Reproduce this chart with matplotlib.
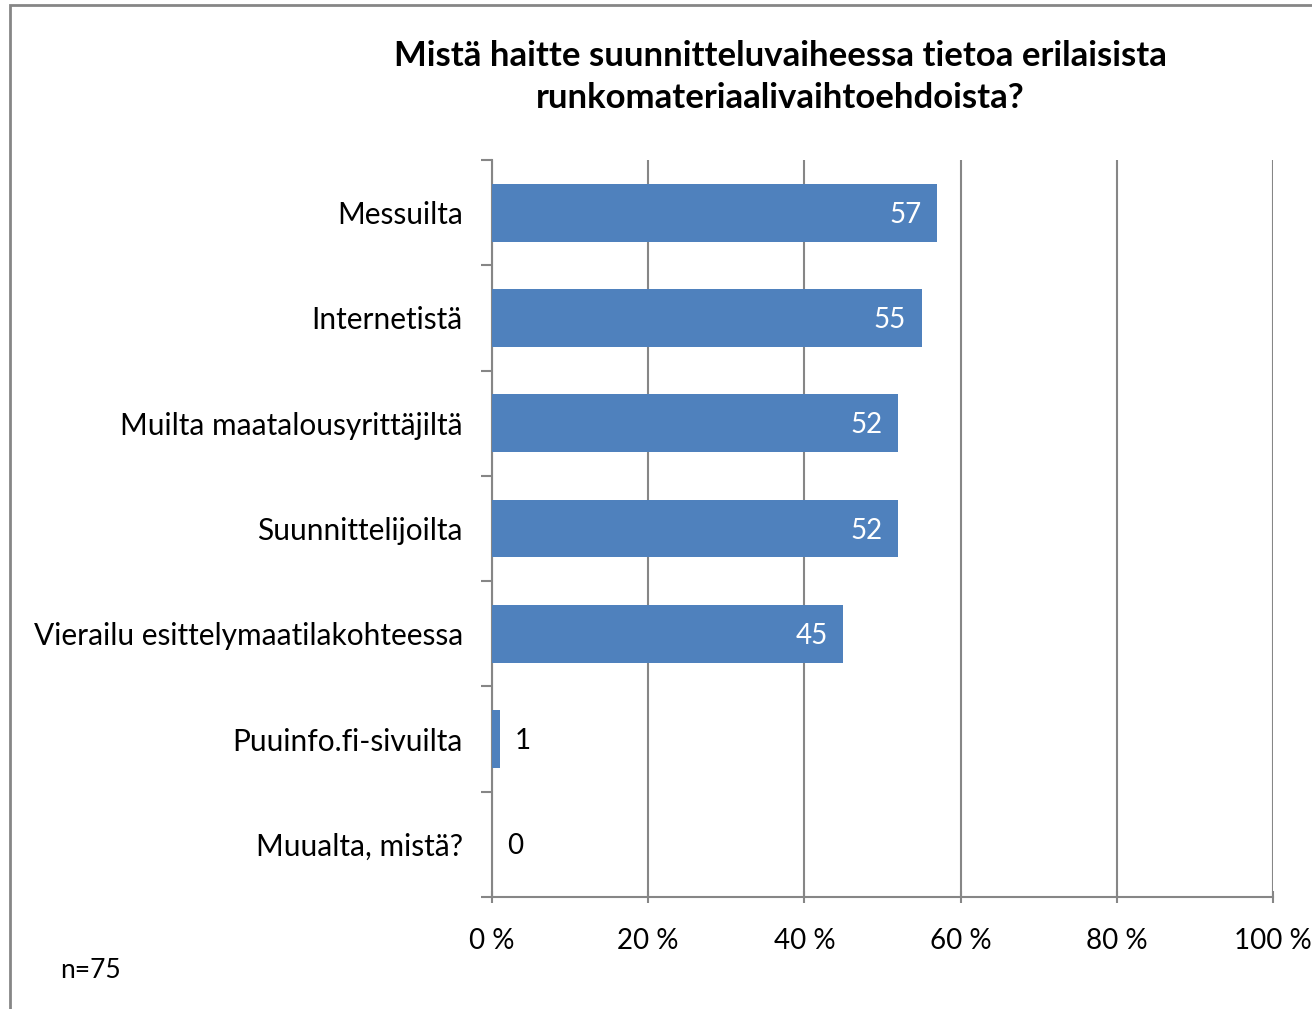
import numpy as np
import matplotlib.pyplot as plt
from matplotlib.patches import Rectangle

plt.rcParams['font.family'] = ['Lato', 'DejaVu Sans']

categories = ['Messuilta', 'Internetistä', 'Muilta maatalousyrittäjiltä', 'Suunnittelijoilta',
              'Vierailu esittelymaatilakohteessa', 'Puuinfo.fi-sivuilta', 'Muualta, mistä?']
values = [57, 55, 52, 52, 45, 1, 0]
xticks = [0, 20, 40, 60, 80, 100]

grey = '#868686'
blue = '#4F81BD'

fig = plt.figure(figsize=(13.12, 10.09), dpi=100)
ax = fig.add_axes([492/1312, 1 - 897/1009, (1273-492)/1312, (897-160)/1009])

y = np.arange(len(categories))
ax.barh(y, values, height=0.55, color=blue, linewidth=0, zorder=3)

for yi, v in zip(y, values):
    if v >= 10:
        ax.text(v - 2, yi + 0.02, str(v), ha='right', va='center', color='white', fontsize=20, zorder=4)
    else:
        ax.text(v + 1.9, yi + 0.02, str(v), ha='left', va='center', color='black', fontsize=20, zorder=4)

ax.set_xlim(0, 100)
ax.set_ylim(len(categories) - 0.5, -0.5)
ax.set_xticks(xticks)
ax.set_xticklabels([f'{t} %' for t in xticks], fontsize=20)
ax.set_yticks(y)
ax.set_yticklabels(categories, fontsize=21.5)
ax.set_yticks(np.arange(len(categories) + 1) - 0.5, minor=True)
ax.tick_params(axis='y', which='major', length=0, pad=21)
ax.tick_params(axis='y', which='minor', length=8, width=1.5, color=grey, direction='out')
ax.tick_params(axis='x', length=8, width=1.5, color=grey, direction='inout', pad=18)
ax.grid(axis='x', color=grey, linewidth=1.5, zorder=0)
for s in ['top', 'right']:
    ax.spines[s].set_visible(False)
for s in ['left', 'bottom']:
    ax.spines[s].set_color(grey)
    ax.spines[s].set_linewidth(1.5)

fig.text(780/1312, 1 - 77/1009, 'Mistä haitte suunnitteluvaiheessa tietoa erilaisista\nrunkomateriaalivaihtoehdoista?',
         ha='center', va='center', fontsize=25, fontweight='bold', linespacing=1.4)
fig.text(60/1312, 1 - 970/1009, 'n=75', ha='left', va='center', fontsize=19)

fig.patches.append(Rectangle((10/1312, -0.1), 1.2, 1 - 5/1009 + 0.1, transform=fig.transFigure,
                             fill=False, edgecolor=grey, linewidth=2))

fig.savefig('out.png', dpi=100)
